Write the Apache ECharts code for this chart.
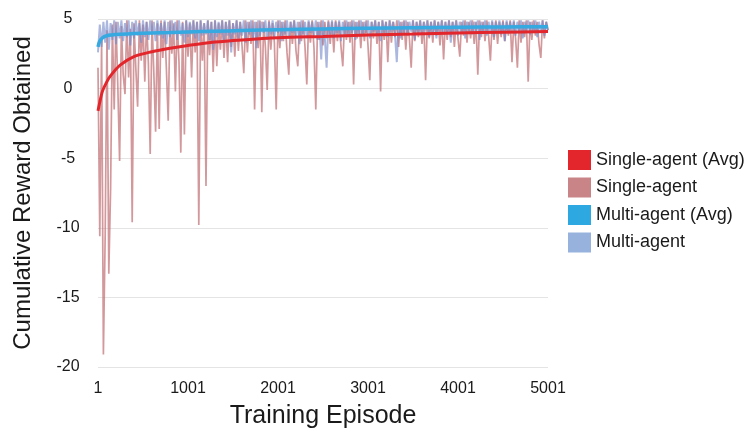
<!DOCTYPE html>
<html>
<head>
<meta charset="utf-8">
<script src="https://cdn.jsdelivr.net/npm/echarts@6/dist/echarts.min.js"></script>
<style>html,body{margin:0;padding:0;background:#fff;}#c{width:748px;height:434px;}</style>
</head>
<body>
<div id="c"></div>
<script>
// x-axis tick labels (episodes)
var xTicks = [1, 1001, 2001, 3001, 4001, 5001];
// noisy series sampled every 20 episodes starting at episode 1
var noisyStart = 1, noisyStep = 20;
var singleAgent = [
1.5, -10.6, 3.5, -19.1, -10.5, 4.2, -13.3, -7.2, 4.6, -1.5,
4.8, 0.2, -5.2, 4.5, 1.0, -0.4, 4.9, 0.8, 4.3, -9.6,
4.7, 1.5, -1.3, 4.9, 2.0, 4.6, 0.5, 4.8, 1.8, -4.7,
4.9, 1.2, -3.1, 4.7, -2.9, 4.9, 2.2, 4.8, 1.4, -2.3,
4.9, 2.5, 4.7, -0.2, 4.9, 1.9, -4.6, 4.8, -3.3, 4.9,
2.3, 4.7, 0.8, 4.9, 2.6, 4.8, -9.8, 4.9, 2.0, 4.7,
-7.0, 4.9, 2.4, 4.8, 1.2, 4.9, 1.6, 4.7, 2.8, 4.9,
2.2, 4.8, 1.9, 4.9, 3.0, 4.7, 2.3, 4.9, 2.7, 4.8,
3.1, 1.1, 4.9, 2.6, 4.8, 3.2, 4.9, -1.5, 4.8, 2.9,
4.9, -1.7, 4.8, 3.0, -0.1, 4.9, 2.8, 4.7, 3.3, -1.5,
4.9, 2.9, 4.8, 3.4, 4.9, 2.6, 1.0, 4.8, 3.2, 4.9,
2.7, 1.6, 4.8, 3.4, 4.9, 3.0, 0.3, 4.8, 3.3, 4.9,
2.9, -1.5, 4.8, 3.5, 4.9, 3.1, 4.8, 3.6, 4.9, 3.2,
4.8, 2.6, 4.9, 3.4, 4.8, 3.0, 1.6, 4.9, 3.5, 4.8,
3.3, 4.9, 0.3, 4.8, 3.6, 4.9, 2.9, 4.8, 3.4, 4.9,
3.1, 0.6, 4.8, 3.6, 4.9, 3.2, 4.8, -0.2, 4.9, 3.5,
4.8, 1.9, 4.9, 3.3, 4.8, 3.7, 4.9, 3.0, 4.8, 3.5,
4.9, 2.8, 4.8, 3.6, 1.5, 4.9, 3.4, 4.8, 3.7, 4.9,
3.2, 4.8, 0.6, 4.9, 3.6, 4.8, 3.3, 4.9, 3.8, 4.8,
3.1, 4.9, 2.1, 4.8, 3.5, 4.9, 3.7, 4.8, 3.0, 4.9,
3.6, 2.3, 4.8, 3.8, 4.9, 3.3, 4.8, 3.6, 4.9, 3.2,
4.8, 1.0, 4.9, 3.7, 4.8, 3.4, 4.9, 3.8, 2.0, 4.8,
3.5, 4.9, 3.2, 4.8, 3.7, 4.9, 3.4, 4.8, 3.8, 4.9,
1.9, 4.8, 3.6, 1.5, 4.9, 3.3, 4.8, 3.7, 4.9, 0.5,
4.8, 3.5, 4.9, 3.8, 4.8, 3.2, 2.2, 4.9, 3.6, 4.8, 4.2
];
var multiAgent = [
2.6, 4.6, 3.0, 4.8, 3.3, 4.9, 2.8, 4.7, 3.5, 4.9,
3.2, 4.8, 3.6, 4.9, 3.4, 4.7, 3.7, 4.9, 3.1, 4.8,
3.6, 4.9, 3.8, 4.7, 3.3, 4.9, 3.7, 4.8, 3.5, 4.9,
3.9, 4.8, 3.4, 4.9, 3.8, 4.7, 3.6, 4.9, 3.2, 4.8,
3.7, 4.9, 3.9, 4.8, 3.5, 4.9, 3.8, 4.7, 3.3, 4.9,
3.7, 4.8, 3.9, 4.9, 3.6, 4.8, 3.4, 4.9, 3.8, 4.7,
3.9, 4.9, 3.5, 4.8, 2.8, 4.9, 3.7, 4.8, 3.9, 4.9,
3.4, 4.8, 3.8, 4.9, 2.6, 4.7, 3.9, 4.9, 3.6, 4.8,
3.8, 4.9, 3.3, 4.8, 3.9, 4.9, 3.6, 4.8, 2.9, 4.9,
3.8, 4.8, 4.0, 4.9, 3.5, 4.8, 3.9, 4.9, 3.7, 4.8,
4.0, 4.9, 3.4, 4.8, 3.9, 4.9, 3.6, 4.8, 4.0, 4.9,
3.7, 4.8, 3.2, 4.9, 3.9, 4.8, 3.6, 4.9, 4.0, 4.8,
3.8, 4.9, 3.5, 4.8, 2.1, 4.9, 3.7, 1.5, 4.8, 3.9,
4.9, 3.6, 4.8, 4.0, 4.9, 3.4, 4.8, 3.9, 4.9, 3.7,
4.8, 4.0, 4.9, 3.5, 4.8, 3.9, 4.9, 3.8, 4.8, 4.0,
4.9, 3.6, 4.8, 4.1, 4.9, 3.8, 4.8, 3.4, 4.9, 4.0,
4.8, 3.7, 4.9, 4.1, 4.8, 3.9, 1.9, 4.9, 3.6, 4.8,
4.0, 4.9, 3.8, 4.8, 4.1, 4.9, 3.5, 4.8, 4.0, 4.9,
3.9, 4.8, 4.1, 4.9, 3.7, 4.8, 4.0, 4.9, 3.6, 4.8,
4.1, 4.9, 3.9, 4.8, 4.0, 4.9, 3.3, 4.8, 4.1, 4.9,
3.8, 4.8, 4.0, 4.9, 3.6, 4.8, 4.1, 4.9, 3.9, 4.8,
4.0, 4.9, 3.5, 4.8, 4.1, 4.9, 3.8, 4.8, 4.0, 4.9,
3.7, 4.8, 4.1, 4.9, 3.9, 4.8, 3.4, 4.9, 4.0, 4.8,
4.1, 4.9, 3.8, 4.8, 4.0, 4.9, 3.6, 4.8, 4.1, 4.9,
3.9, 4.8, 4.0, 4.9, 3.7, 4.8, 4.1, 4.9, 3.8, 4.8, 4.2
];
// running averages
var avgEpisodes = [1, 20, 50, 100, 150, 250, 400, 600, 800, 1000, 1300, 1600, 2000, 2500, 3000, 3500, 4000, 4500, 5001];
var singleAvg = [-1.6, -1.0, -0.2, 0.5, 1.0, 1.7, 2.3, 2.65, 2.9, 3.1, 3.35, 3.5, 3.65, 3.75, 3.85, 3.92, 4.0, 4.05, 4.1];
var multiAvg = [3.0, 3.4, 3.65, 3.8, 3.85, 3.9, 3.95, 4.0, 4.03, 4.07, 4.12, 4.17, 4.23, 4.29, 4.34, 4.38, 4.41, 4.43, 4.45];

function pairsFromStep(vals) { return vals.map(function (v, i) { return [noisyStart + i * noisyStep, v]; }); }
function pairsFromX(xs, vals) { return vals.map(function (v, i) { return [xs[i], v]; }); }

var FONT = '"Liberation Sans", Arial, Helvetica, sans-serif';
var chart = echarts.init(document.getElementById('c'), null, { renderer: 'canvas' });
chart.setOption({
  animation: false,
  backgroundColor: '#ffffff',
  grid: { left: 98, right: 200, top: 19, bottom: 65 },
  legend: {
    orient: 'vertical', left: 563, top: 145,
    itemWidth: 23, itemHeight: 20, itemGap: 7.5, icon: 'rect',
    textStyle: { fontFamily: FONT, fontSize: 18, color: '#1a1a1a' },
    data: ['Single-agent (Avg)', 'Single-agent', 'Multi-agent (Avg)', 'Multi-agent']
  },
  xAxis: {
    type: 'value', min: 1, max: 5001,
    name: 'Training Episode', nameLocation: 'middle', nameGap: 37,
    nameTextStyle: { fontFamily: FONT, fontSize: 25, color: '#1a1a1a' },
    axisLine: { show: false }, axisTick: { show: false }, splitLine: { show: false },
    axisLabel: { customValues: xTicks, formatter: function (v) { return String(v); },
      fontFamily: FONT, fontSize: 16, color: '#1a1a1a', margin: 14 }
  },
  yAxis: {
    type: 'value', min: -20, max: 5, interval: 5,
    name: 'Cumulative Reward Obtained', nameLocation: 'middle', nameGap: 63,
    nameTextStyle: { fontFamily: FONT, fontSize: 24, color: '#1a1a1a' },
    axisLine: { show: false }, axisTick: { show: false },
    splitLine: { lineStyle: { color: '#e4e4e4', width: 1 } },
    axisLabel: { fontFamily: FONT, fontSize: 16, color: '#1a1a1a', margin: 30, align: 'center' }
  },
  series: [
    { name: 'Single-agent', type: 'line', data: pairsFromStep(singleAgent), showSymbol: false, symbol: 'none',
      color: '#c98487', lineStyle: { color: 'rgba(195,118,122,0.75)', width: 1.7 }, z: 1 },
    { name: 'Multi-agent', type: 'line', data: pairsFromStep(multiAgent), showSymbol: false, symbol: 'none',
      color: '#97b2dc', lineStyle: { color: 'rgba(115,135,200,0.6)', width: 2 }, z: 2 },
    { name: 'Multi-agent (Avg)', type: 'line', data: pairsFromX(avgEpisodes, multiAvg), showSymbol: false, symbol: 'none',
      smooth: 0.3, color: '#2ea8e0', lineStyle: { color: '#35a9e0', width: 3.5 }, z: 3 },
    { name: 'Single-agent (Avg)', type: 'line', data: pairsFromX(avgEpisodes, singleAvg), showSymbol: false, symbol: 'none',
      smooth: 0.3, color: '#e3262b', lineStyle: { color: '#e3262b', width: 3 }, z: 4 }
  ]
});
</script>
</body>
</html>
